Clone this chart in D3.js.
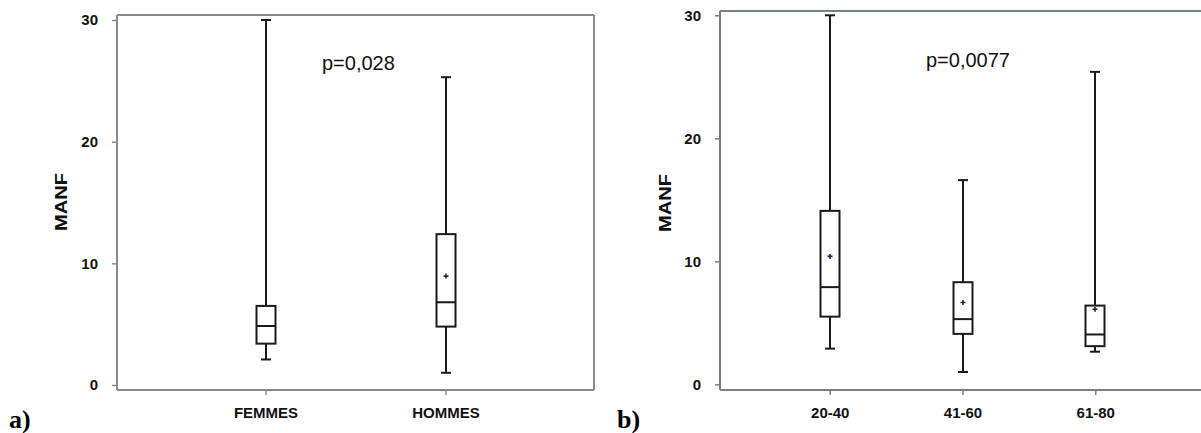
<!DOCTYPE html>
<html><head><meta charset="utf-8">
<script src="https://cdn.jsdelivr.net/npm/d3@7"></script>
<style>
body{margin:0;background:#fff;}
svg{display:block;}
</style></head>
<body><svg id="c" width="1201" height="433"></svg>
<script>
// Panel a data
const catsA = ["FEMMES", "HOMMES"];
const whiskerLowA = [2.1, 1.0];
const q1A = [3.4, 4.8];
const medianA = [4.85, 6.8];
const q3A = [6.5, 12.4];
const whiskerHighA = [30, 25.3];
const meanA = [null, 8.95];
const pA = "p=0,028";

// Panel b data
const catsB = ["20-40", "41-60", "61-80"];
const whiskerLowB = [2.9, 1.0, 2.65];
const q1B = [5.5, 4.1, 3.1];
const medianB = [7.9, 5.3, 4.05];
const q3B = [14.1, 8.3, 6.4];
const whiskerHighB = [30, 16.6, 25.4];
const meanB = [10.4, 6.65, 6.1];
const pB = "p=0,0077";

const yTicks = [0, 10, 20, 30];
const yLabel = "MANF";

const svg = d3.select("#c");

function panel(opt) {
  const g = svg.append("g");
  const x = d3.scalePoint().domain(opt.cats).range([opt.left, opt.right]).padding(opt.pad);
  const y = d3.scaleLinear().domain([0, 30]).range([opt.y0, opt.y30]);

  // frame
  const fc = opt.frameColor;
  g.append("line").attr("x1", opt.left).attr("x2", opt.left).attr("y1", opt.top).attr("y2", opt.bottom)
    .attr("stroke", fc).attr("stroke-width", 2);
  g.append("line").attr("x1", opt.left).attr("x2", opt.frameRight).attr("y1", opt.top).attr("y2", opt.top)
    .attr("stroke", fc).attr("stroke-width", 2);
  g.append("line").attr("x1", opt.left).attr("x2", opt.frameRight).attr("y1", opt.bottom).attr("y2", opt.bottom)
    .attr("stroke", fc).attr("stroke-width", 2);
  if (opt.drawRight) {
    g.append("line").attr("x1", opt.right).attr("x2", opt.right).attr("y1", opt.top).attr("y2", opt.bottom)
      .attr("stroke", fc).attr("stroke-width", 2);
  }

  // y axis ticks and labels
  const yAxis = d3.axisLeft(y).tickValues(yTicks).tickSize(4).tickPadding(14).tickFormat(d3.format("d"));
  const ya = g.append("g").attr("transform", `translate(${opt.left - 1},0)`).call(yAxis);
  ya.select(".domain").remove();
  ya.selectAll(".tick line").attr("stroke", fc).attr("stroke-width", 1.5);
  ya.selectAll(".tick text").attr("font-family", "Arial, 'Liberation Sans', sans-serif")
    .attr("font-weight", "bold").attr("font-size", 15).attr("fill", "#111");

  // x axis ticks and labels
  const xAxis = d3.axisBottom(x).tickSize(4).tickPadding(12);
  const xa = g.append("g").attr("transform", `translate(0,${opt.bottom + 1})`).call(xAxis);
  xa.select(".domain").remove();
  xa.selectAll(".tick line").attr("stroke", fc).attr("stroke-width", 1.5);
  xa.selectAll(".tick text").attr("font-family", "Arial, 'Liberation Sans', sans-serif")
    .attr("font-weight", "bold").attr("font-size", 15).attr("fill", "#111");

  // y label
  g.append("text")
    .attr("transform", `translate(${opt.labelX},${opt.labelY}) rotate(-90)`)
    .attr("text-anchor", "middle")
    .attr("font-family", "Arial, 'Liberation Sans', sans-serif")
    .attr("font-weight", "bold").attr("font-size", 16)
    .attr("textLength", 58).attr("lengthAdjust", "spacingAndGlyphs")
    .attr("fill", "#111").text(yLabel);

  // boxes
  const bw = 19, cw = 10;
  opt.cats.forEach((c, i) => {
    const cx = Math.round(x(c));
    const stroke = "#1a1a1a";
    // whiskers
    g.append("line").attr("x1", cx).attr("x2", cx).attr("y1", y(opt.q3[i])).attr("y2", y(opt.hi[i]))
      .attr("stroke", stroke).attr("stroke-width", 2);
    g.append("line").attr("x1", cx).attr("x2", cx).attr("y1", y(opt.q1[i])).attr("y2", y(opt.lo[i]))
      .attr("stroke", stroke).attr("stroke-width", 2);
    // caps
    g.append("line").attr("x1", cx - cw / 2).attr("x2", cx + cw / 2).attr("y1", y(opt.hi[i])).attr("y2", y(opt.hi[i]))
      .attr("stroke", stroke).attr("stroke-width", 2);
    g.append("line").attr("x1", cx - cw / 2).attr("x2", cx + cw / 2).attr("y1", y(opt.lo[i])).attr("y2", y(opt.lo[i]))
      .attr("stroke", stroke).attr("stroke-width", 2);
    // box
    g.append("rect").attr("x", cx - bw / 2).attr("width", bw)
      .attr("y", y(opt.q3[i])).attr("height", y(opt.q1[i]) - y(opt.q3[i]))
      .attr("fill", "#fff").attr("stroke", stroke).attr("stroke-width", 2);
    // median
    g.append("line").attr("x1", cx - bw / 2).attr("x2", cx + bw / 2).attr("y1", y(opt.med[i])).attr("y2", y(opt.med[i]))
      .attr("stroke", stroke).attr("stroke-width", 2);
    // mean
    if (opt.mean[i] != null) {
      const my = y(opt.mean[i]);
      g.append("path").attr("d", `M${cx - 2.5},${my}H${cx + 2.5}M${cx},${my - 2.5}V${my + 2.5}`)
        .attr("stroke", "#1f2350").attr("stroke-width", 1.6);
    }
  });

  // p value
  g.append("text").attr("x", opt.pX).attr("y", opt.pY)
    .attr("font-family", "Arial, 'Liberation Sans', sans-serif").attr("font-size", 20)
    .attr("fill", "#111").text(opt.p);

  // panel letter
  g.append("text").attr("x", opt.letterX).attr("y", 428)
    .attr("font-family", "'Times New Roman', 'Liberation Serif', serif")
    .attr("font-weight", "bold").attr("font-size", 26).attr("fill", "#000").text(opt.letter);
}

panel({
  cats: catsA, lo: whiskerLowA, q1: q1A, med: medianA, q3: q3A, hi: whiskerHighA, mean: meanA,
  left: 117, right: 594, frameRight: 594, drawRight: true, top: 15, bottom: 390,
  y0: 385, y30: 20, pad: 0.825, frameColor: "#8a8a8a",
  labelX: 67, labelY: 202, p: pA, pX: 322, pY: 70, letter: "a)", letterX: 9
});

panel({
  cats: catsB, lo: whiskerLowB, q1: q1B, med: medianB, q3: q3B, hi: whiskerHighB, mean: meanB,
  left: 720, right: 1205, frameRight: 1201, drawRight: false, top: 11, bottom: 390,
  y0: 384.3, y30: 15.3, pad: 0.8265, frameColor: "#74818d",
  labelX: 671, labelY: 203, p: pB, pX: 926, pY: 66.5, letter: "b)", letterX: 617
});
</script>
</body></html>
